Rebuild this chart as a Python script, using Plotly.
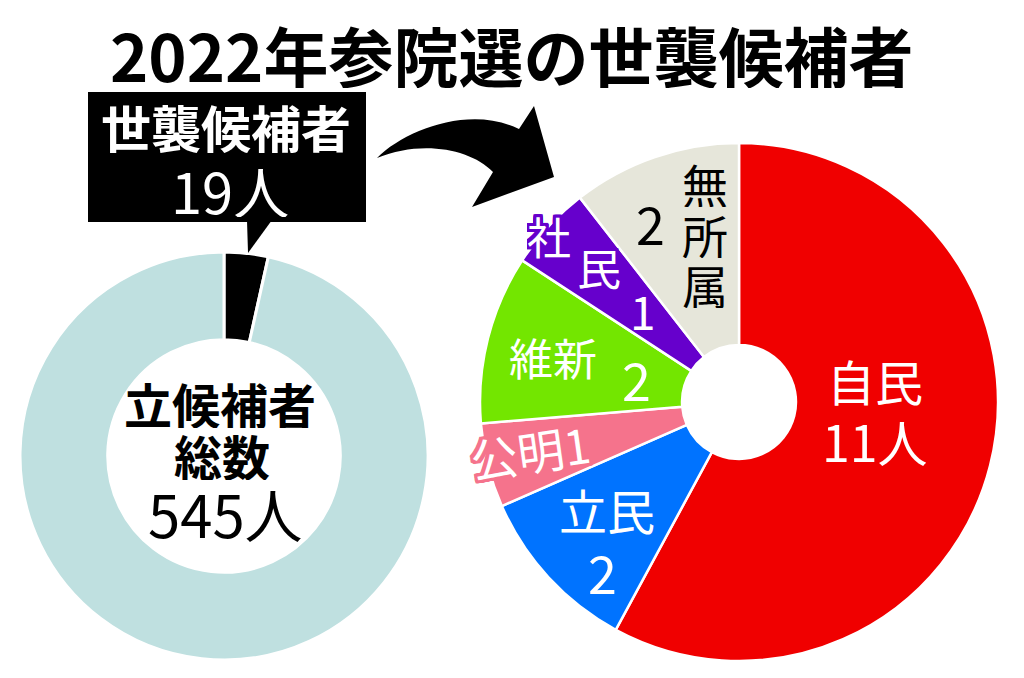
import plotly.graph_objects as go

# ---------------- data ----------------
title_text = "2022年参院選の世襲候補者"
total_candidates = 545
hereditary = 19
left_labels = ["世襲候補者", "その他"]
left_values = [hereditary, total_candidates - hereditary]
left_colors = ["#000000", "#bfe0e0"]

parties = ["自民", "立民", "公明", "維新", "社民", "無所属"]
party_values = [11, 2, 1, 2, 1, 2]
party_colors = ["#f00000", "#0073ff", "#f5738c", "#73e600", "#6600cc", "#e6e6da"]

W, H = 1024, 678          # browser window
OFF = 8                   # default page body margin
FW, FH = W - 2 * OFF, H - 2 * OFF
FONT = "Noto Sans CJK JP"


def domain(cx, cy, r):
    x, y = cx - OFF, cy - OFF
    return dict(x=[(x - r) / FW, (x + r) / FW],
                y=[(FH - y - r) / FH, (FH - y + r) / FH])


def outline(color, w=2):
    offs = []
    for dx in range(-w, w + 1):
        for dy in range(-w, w + 1):
            if dx == 0 and dy == 0:
                continue
            offs.append(f"{dx}px {dy}px 0 {color}")
    return ", ".join(offs)


fig = go.Figure()

# invisible trace giving a window-pixel coordinate system for decorations
fig.add_trace(go.Scatter(x=[OFF, W - OFF], y=[OFF, H - OFF], mode="none",
                         hoverinfo="skip", showlegend=False))

fig.add_trace(go.Pie(
    values=left_values, labels=left_labels, hole=0.57, sort=False,
    direction="clockwise", rotation=0,
    marker=dict(colors=left_colors, line=dict(color="white", width=3)),
    textinfo="none", hoverinfo="skip", showlegend=False,
    domain=domain(224, 456, 204)))

fig.add_trace(go.Pie(
    values=party_values, labels=parties, hole=0.22, sort=False,
    direction="clockwise", rotation=0,
    marker=dict(colors=party_colors, line=dict(color="white", width=2.5)),
    textinfo="none", hoverinfo="skip", showlegend=False,
    domain=domain(739, 402, 259)))

shapes = [
    dict(type="rect", x0=88, x1=366, y0=92, y1=222, fillcolor="black",
         line=dict(width=0), xref="x", yref="y", layer="above"),
    dict(type="path", path="M 247,220 L 272,220 L 248,253 Z", fillcolor="black",
         line=dict(width=0), xref="x", yref="y", layer="above"),
    dict(type="path",
         path=("M 377,158 C 405,130 470,105 519,129 L 534,106 L 554,177 "
               "L 472,207 L 493,172 C 470,148 420,140 377,158 Z"),
         fillcolor="black", line=dict(width=0), xref="x", yref="y", layer="above"),
]

ann = []


def add(text, x, y, size, color="black", weight="normal", shadow=None, angle=0,
        height=None):
    f = dict(family=FONT, size=size, color=color, weight=weight)
    if shadow:
        f["shadow"] = shadow
    a = dict(text=text, x=x, y=y, xref="x", yref="y", showarrow=False,
             xanchor="center", yanchor="middle", font=f, textangle=angle)
    if height:
        a["height"] = height
    ann.append(a)


add(title_text, 511, 54, 65, weight="bold", height=68)
add(left_labels[0], 226, 126, 50, color="white", weight="bold", height=56)
add(f"{hereditary}人", 230, 189, 56, color="white", height=56)

add("立候補者", 220, 403, 48, weight="bold", height=50)
add("総数", 222, 455, 48, weight="bold", height=50)
add(f"{total_candidates}人", 225, 513, 58, height=58)

# right pie labels
add(parties[0], 875, 380, 48, color="white", height=54)
add(f"{party_values[0]}人", 875, 440, 50, color="white", height=56)
add(parties[1], 607, 509, 48, color="white", height=54)
add(str(party_values[1]), 602, 571, 52, color="white", height=56)
add(f"{parties[2]}{party_values[2]}", 530, 450, 47, color="white",
    shadow=outline(party_colors[2], 3), angle=-8)
add(parties[3], 553, 357, 44, color="white")
add(str(party_values[3]), 636, 378, 52, color="white")
add(parties[4][0], 549, 236, 44, color="white", shadow=outline(party_colors[4], 3),
    height=46)
add(parties[4][1], 599, 267, 44, color="white", shadow=outline(party_colors[4], 3),
    height=46)
add(str(party_values[4]), 643, 310, 46, color="white", height=46)
for ch, yy in zip(parties[5], [183, 234, 284]):
    add(ch, 705, yy, 46, height=48)
add(str(party_values[5]), 650, 222, 52)

fig.update_layout(
    width=FW, height=FH, margin=dict(l=0, r=0, t=0, b=0),
    paper_bgcolor="white", plot_bgcolor="rgba(0,0,0,0)",
    xaxis=dict(range=[OFF, W - OFF], visible=False, fixedrange=True),
    yaxis=dict(range=[H - OFF, OFF], visible=False, fixedrange=True),
    shapes=shapes, annotations=ann, showlegend=False,
)

fig.write_html("out.html")
